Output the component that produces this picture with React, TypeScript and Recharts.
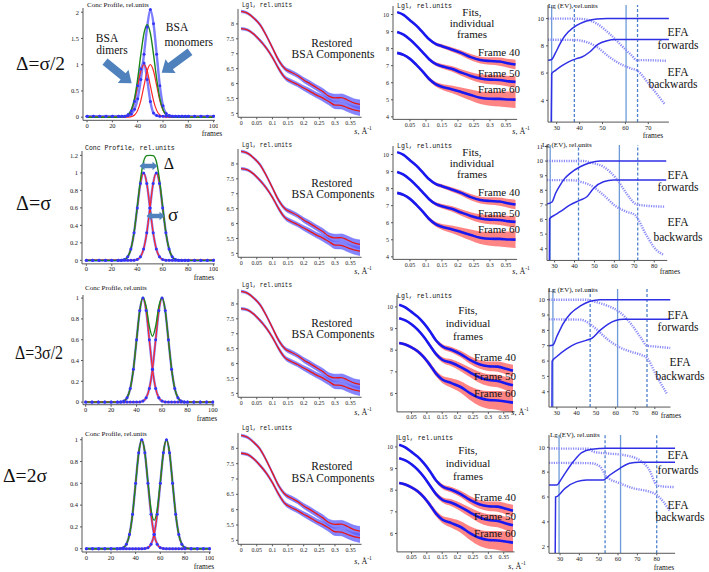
import React from 'react';
import { ComposedChart, Line, Area, XAxis, YAxis, ReferenceLine } from 'recharts';

const SERIF = '"Liberation Serif", "Times New Roman", serif';
const MONO = '"Liberation Mono", "DejaVu Sans Mono", monospace';

// ---------- Column 1: concentration profiles ----------
const FRAMES = [0, 5, 10, 15, 20, 25, 27.5, 30, 32.5, 35, 37.5, 40, 42.5, 45, 47.5, 50, 52.5, 55, 57.5, 60, 62.5, 65, 67.5, 70, 72.5, 75, 77.5, 80, 85, 90, 95, 100];
const G45 = [0, 0, 0, 0, 0, 0, 0.002, 0.01, 0.041, 0.13, 0.317, 0.6, 0.88, 1, 0.88, 0.6, 0.317, 0.13, 0.041, 0.01, 0.002, 0, 0, 0, 0, 0, 0, 0, 0, 0, 0, 0];
const G50 = [0, 0, 0, 0, 0, 0, 0, 0, 0.002, 0.01, 0.041, 0.13, 0.317, 0.6, 0.88, 1, 0.88, 0.6, 0.317, 0.13, 0.041, 0.01, 0.002, 0, 0, 0, 0, 0, 0, 0, 0, 0];
const G55 = [0, 0, 0, 0, 0, 0, 0, 0, 0, 0, 0.002, 0.01, 0.041, 0.13, 0.317, 0.6, 0.88, 1, 0.88, 0.6, 0.317, 0.13, 0.041, 0.01, 0.002, 0, 0, 0, 0, 0, 0, 0];
const G60 = [0, 0, 0, 0, 0, 0, 0, 0, 0, 0, 0, 0, 0.002, 0.01, 0.041, 0.13, 0.317, 0.6, 0.88, 1, 0.88, 0.6, 0.317, 0.13, 0.041, 0.01, 0.002, 0, 0, 0, 0, 0];
const G65 = [0, 0, 0, 0, 0, 0, 0, 0, 0, 0, 0, 0, 0, 0, 0.002, 0.01, 0.041, 0.13, 0.317, 0.6, 0.88, 1, 0.88, 0.6, 0.317, 0.13, 0.041, 0.01, 0, 0, 0, 0];
const SUM1 = [0, 0, 0, 0, 0, 0, 0.002, 0.01, 0.043, 0.14, 0.358, 0.73, 1.197, 1.6, 1.76, 1.6, 1.197, 0.73, 0.358, 0.14, 0.043, 0.01, 0.002, 0, 0, 0, 0, 0, 0, 0, 0, 0];
const SUM2 = [0, 0, 0, 0, 0, 0, 0.002, 0.01, 0.041, 0.13, 0.319, 0.61, 0.921, 1.13, 1.197, 1.2, 1.197, 1.13, 0.921, 0.61, 0.319, 0.13, 0.041, 0.01, 0.002, 0, 0, 0, 0, 0, 0, 0];
const SUM3 = [0, 0, 0, 0, 0, 0, 0.002, 0.01, 0.041, 0.13, 0.317, 0.6, 0.882, 1.01, 0.921, 0.73, 0.634, 0.73, 0.921, 1.01, 0.882, 0.6, 0.317, 0.13, 0.041, 0.01, 0.002, 0, 0, 0, 0, 0];
const SUM4 = [0, 0, 0, 0, 0, 0, 0.002, 0.01, 0.041, 0.13, 0.317, 0.6, 0.88, 1, 0.882, 0.61, 0.358, 0.26, 0.358, 0.61, 0.882, 1, 0.88, 0.6, 0.317, 0.13, 0.041, 0.01, 0, 0, 0, 0];
const BLUE1_BIG = [0.02, 0.02, 0.02, 0.02, 0.02, 0.02, 0.02, 0.02, 0.03, 0.06, 0.15, 0.35, 0.72, 1.2, 1.72, 2.05, 1.78, 1.2, 0.6, 0.22, 0.07, 0.03, 0.02, 0.02, 0.02, 0.02, 0.02, 0.02, 0.02, 0.02, 0.02, 0.02];
const BLUE1_SMALL = [0.02, 0.02, 0.02, 0.02, 0.02, 0.02, 0.02, 0.02, 0.05, 0.12, 0.3, 0.6, 0.92, 1.03, 0.72, 0.3, 0.08, 0.03, 0.02, 0.02, 0.02, 0.02, 0.02, 0.02, 0.02, 0.02, 0.02, 0.02, 0.02, 0.02, 0.02, 0.02];

// ---------- Column 2: restored components ----------
const S2 = [0, 0.02, 0.04, 0.06, 0.08, 0.1, 0.12, 0.14, 0.16, 0.18, 0.2, 0.22, 0.24, 0.26, 0.28, 0.3, 0.32, 0.34, 0.36, 0.38];
const DIMER = [8.42, 8.36, 8.2, 7.98, 7.62, 7.2, 6.78, 6.5, 6.38, 6.27, 6.12, 6.0, 5.87, 5.74, 5.58, 5.52, 5.53, 5.45, 5.35, 5.3];
const MONOMER = [7.84, 7.8, 7.66, 7.45, 7.2, 6.88, 6.5, 6.2, 6.07, 5.97, 5.85, 5.74, 5.62, 5.52, 5.4, 5.28, 5.27, 5.19, 5.12, 5.08];
const SPREAD2 = [0.04, 0.04, 0.04, 0.05, 0.05, 0.05, 0.06, 0.06, 0.07, 0.07, 0.08, 0.09, 0.09, 0.1, 0.11, 0.12, 0.12, 0.13, 0.14, 0.15];

// ---------- Column 3: individual frame fits ----------
const S3 = [0.01, 0.03, 0.05, 0.07, 0.09, 0.11, 0.13, 0.15, 0.18, 0.21, 0.24, 0.27, 0.3, 0.33, 0.36, 0.38];
const F40_R1 = [10.14, 9.98, 9.67, 9.35, 8.95, 8.55, 8.28, 8.14, 7.95, 7.75, 7.5, 7.33, 7.27, 7.24, 7.13, 7.07];
const F50_R1 = [8.98, 8.82, 8.53, 8.18, 7.78, 7.38, 7.1, 6.97, 6.82, 6.6, 6.4, 6.25, 6.18, 6.16, 6.08, 6.05];
const F60_R1 = [7.75, 7.63, 7.4, 7.05, 6.65, 6.22, 5.92, 5.76, 5.62, 5.45, 5.28, 5.12, 5.06, 5.05, 5.02, 5.01];
const F40_R4 = [10.1, 9.98, 9.77, 9.55, 9.25, 8.88, 8.45, 8.18, 8.02, 7.82, 7.55, 7.35, 7.26, 7.24, 7.13, 7.05];
const F50_R4 = [9.48, 9.38, 9.2, 8.95, 8.62, 8.22, 7.82, 7.56, 7.42, 7.22, 6.98, 6.75, 6.62, 6.58, 6.45, 6.38];
const F60_R4 = [8.33, 8.26, 8.13, 7.95, 7.68, 7.32, 6.92, 6.65, 6.48, 6.3, 6.02, 5.8, 5.7, 5.68, 5.62, 5.58];
const N40 = [0.04, 0.05, 0.05, 0.06, 0.07, 0.08, 0.09, 0.11, 0.13, 0.15, 0.18, 0.2, 0.22, 0.24, 0.26, 0.28];
const N50 = [0.05, 0.05, 0.06, 0.07, 0.08, 0.09, 0.11, 0.13, 0.16, 0.19, 0.22, 0.25, 0.27, 0.29, 0.31, 0.33];
const N60 = [0.06, 0.07, 0.08, 0.09, 0.1, 0.12, 0.14, 0.17, 0.22, 0.27, 0.32, 0.37, 0.41, 0.44, 0.47, 0.5];

// ---------- Column 4: EFA eigenvalues [frame, lg EV] ----------
const R1_FWD1 = [[26.2, 6.94], [27.8, 7.0], [29.5, 7.5], [31.5, 8.16], [33, 8.6], [35, 9.02], [38.7, 9.5], [43, 9.83], [47.5, 9.98], [52, 10.0], [79, 10.0]];
const R1_FWD2 = [[27.6, 2.4], [27.8, 5.96], [29.5, 6.2], [31.5, 6.45], [35, 6.81], [38.7, 7.06], [41, 7.18], [44.4, 7.55], [48, 8.11], [51.6, 8.36], [56, 8.46], [79, 8.46]];
const R1_BWD1 = [[26.2, 10.0], [38, 10.0], [43, 9.93], [47.5, 9.63], [53, 8.9], [59, 7.9], [62.7, 7.3], [65, 6.94], [67, 6.95], [78, 6.9]];
const R1_BWD2 = [[26.2, 8.45], [38, 8.43], [43, 8.28], [47.5, 7.92], [53, 7.18], [59, 6.57], [62.7, 6.33], [65, 6.2], [70.7, 5.1], [77, 3.75]];
const R2_FWD1 = [[26.2, 7.06], [28.7, 7.2], [30.5, 7.8], [32.8, 8.36], [35, 8.8], [37.8, 9.16], [42.8, 9.61], [47.8, 9.89], [52.8, 10.0], [86, 10.0]];
const R2_FWD2 = [[27.4, 3.2], [27.5, 6.05], [30, 6.3], [32.8, 6.54], [37.8, 7.0], [42.8, 7.33], [46.2, 7.56], [49.5, 8.13], [54.5, 8.59], [59.5, 8.7], [86, 8.7]];
const R2_BWD1 = [[26.2, 10.0], [45, 10.0], [47.8, 9.9], [54.5, 9.61], [61, 8.8], [66, 7.8], [70.3, 7.1], [72, 7.0], [85, 6.88]];
const R2_BWD2 = [[26.2, 8.7], [40, 8.68], [42.8, 8.59], [47.8, 8.36], [54.5, 7.68], [61, 6.88], [66, 6.54], [70.3, 6.31], [76, 4.94], [81, 3.92], [84.5, 3.6]];
const R3_FWD1 = [[26, 7.0], [28, 7.05], [30, 7.6], [33, 8.4], [37, 9.1], [42, 9.6], [47, 9.9], [52, 10.0], [88, 10.0]];
const R3_FWD2 = [[27.5, 3.0], [27.6, 6.0], [30, 6.3], [35, 6.8], [40, 7.15], [45, 7.35], [48, 7.5], [52, 8.0], [56, 8.4], [60, 8.65], [64, 8.72], [88, 8.72]];
const R3_BWD1 = [[26, 10.0], [45, 10.0], [50, 9.85], [56, 9.6], [62, 9.2], [68, 8.4], [73, 7.5], [76, 7.0], [80, 6.95], [88, 6.85]];
const R3_BWD2 = [[26, 8.72], [42, 8.7], [46, 8.5], [50, 8.1], [56, 7.4], [62, 6.9], [68, 6.6], [73, 6.4], [76, 6.2], [81, 5.0], [86, 3.9]];
const R4_FWD1 = [[24.3, 6.97], [28.3, 6.97], [30.5, 7.4], [32.6, 7.9], [36.9, 8.85], [41.2, 9.57], [46.4, 9.84], [54, 9.92], [89.5, 9.92]];
const R4_FWD2 = [[27.5, 1.47], [27.7, 6.0], [28.3, 6.03], [32.6, 6.7], [38.6, 7.24], [43.8, 7.37], [52.4, 7.37], [55.8, 7.77], [61, 8.31], [66, 8.71], [71, 8.79], [89.5, 8.79]];
const R4_BWD1 = [[24.3, 9.9], [45, 9.88], [47.2, 9.65], [54, 9.51], [62.8, 9.38], [71, 8.98], [76.2, 8.18], [80, 6.97], [83, 6.85], [89, 6.8]];
const R4_BWD2 = [[24.3, 8.75], [46, 8.72], [50.7, 8.45], [54, 7.64], [61, 7.1], [68, 6.7], [76.2, 6.43], [80, 6.17], [87, 4.83]];
const R1_MARKS = [27.8, 37.7, 60.3, 65.3];
const R2_MARKS = [27.8, 42, 62.5, 71.7];
const R3_MARKS = [28, 47, 61, 76];
const R4_MARKS = [29.5, 53.3, 61.3, 80];

// ---------- helpers ----------
const pts = (arr: number[][]) => arr.map(([x, y]) => ({ x, y }));

function Frame(props: any) {
  const { xd, yd, xc, yc, xt, yt, data, children, fs = 6.5 } = props;
  const kx = (xc[3] - xc[1]) / (xc[2] - xc[0]);
  const px = (v: number) => xc[1] + (v - xc[0]) * kx;
  const ky = (yc[3] - yc[1]) / (yc[2] - yc[0]);
  const py = (v: number) => yc[1] + (v - yc[0]) * ky;
  const x0 = px(xd[0]);
  const x1 = px(xd[1]);
  const yT = py(yd[1]);
  const yB = py(yd[0]);
  const YW = 22, XH = 13, MT = 3, MR = 3;
  const tick = { fontSize: fs, fontFamily: SERIF, fill: '#222' };
  return (
    <div style={{ position: 'absolute', left: x0 - YW, top: yT - MT }}>
      <ComposedChart width={x1 - x0 + YW + MR} height={yB - yT + MT + XH} margin={{ top: MT, right: MR, bottom: 0, left: 0 }} data={data}>
        <XAxis type="number" dataKey="x" domain={xd} ticks={xt} allowDataOverflow height={XH} tick={tick} tickSize={2} tickMargin={1} stroke="#555" interval={0} />
        <YAxis type="number" domain={yd} ticks={yt} allowDataOverflow width={YW} tick={tick} tickSize={2} tickMargin={2} stroke="#555" interval={0} />
        {children}
      </ComposedChart>
    </div>
  );
}

const RED = '#ff2626';
const GREEN = '#1b861b';
const BLUE_L = '#7d7dff';
const BLUE_D = '#3434f5';

function ConcPanel({ cfg, blueA, blueB, redA, redB, sum }: any) {
  const data = FRAMES.map((x, i) => ({ x, ba: blueA[i], bb: blueB[i], ra: redA[i], rb: redB[i], s: sum[i] }));
  const dot = { r: 1.5, fill: BLUE_D, stroke: 'none' };
  return (
    <Frame {...cfg} xt={[0, 20, 40, 60, 80, 100]} data={data}>
      <Line type="monotone" dataKey="ba" stroke={BLUE_L} strokeWidth={2.4} dot={dot} isAnimationActive={false} />
      <Line type="monotone" dataKey="bb" stroke={BLUE_L} strokeWidth={2.4} dot={dot} isAnimationActive={false} />
      <Line type="monotone" dataKey="ra" stroke={RED} strokeWidth={1.2} dot={false} isAnimationActive={false} />
      <Line type="monotone" dataKey="rb" stroke={RED} strokeWidth={1.2} dot={false} isAnimationActive={false} />
      <Line type="monotone" dataKey="s" stroke={GREEN} strokeWidth={1.4} dot={false} isAnimationActive={false} />
    </Frame>
  );
}

function RestoredPanel({ cfg }: any) {
  const data = S2.map((x, i) => ({
    x,
    d: DIMER[i], m: MONOMER[i],
    bd: [DIMER[i] - SPREAD2[i], DIMER[i] + SPREAD2[i]],
    bm: [MONOMER[i] - SPREAD2[i], MONOMER[i] + SPREAD2[i]],
  }));
  return (
    <Frame {...cfg} xt={[0, 0.05, 0.1, 0.15, 0.2, 0.25, 0.3, 0.35]} data={data} fs={6}>
      <Area type="monotone" dataKey="bd" stroke="#6a6aff" strokeWidth={0.6} fill="#5c5cff" fillOpacity={0.75} isAnimationActive={false} />
      <Area type="monotone" dataKey="bm" stroke="#6a6aff" strokeWidth={0.6} fill="#5c5cff" fillOpacity={0.75} isAnimationActive={false} />
      <Line type="monotone" dataKey="d" stroke="#e81818" strokeWidth={1.3} dot={false} isAnimationActive={false} />
      <Line type="monotone" dataKey="m" stroke="#e81818" strokeWidth={1.3} dot={false} isAnimationActive={false} />
    </Frame>
  );
}

function FitsPanel({ cfg, f40, f50, f60 }: any) {
  const data = S3.map((x, i) => ({
    x,
    a: f40[i], b: f50[i], c: f60[i],
    na: [f40[i] - N40[i], f40[i] + N40[i]],
    nb: [f50[i] - N50[i], f50[i] + N50[i]],
    nc: [f60[i] - N60[i], f60[i] + N60[i]],
  }));
  return (
    <Frame {...cfg} xt={[0.05, 0.1, 0.15, 0.2, 0.25, 0.3, 0.35]} data={data} fs={6}>
      <Area type="monotone" dataKey="na" stroke="none" fill="#ff3434" fillOpacity={0.6} isAnimationActive={false} />
      <Area type="monotone" dataKey="nb" stroke="none" fill="#ff3434" fillOpacity={0.6} isAnimationActive={false} />
      <Area type="monotone" dataKey="nc" stroke="none" fill="#ff3434" fillOpacity={0.6} isAnimationActive={false} />
      <Line type="monotone" dataKey="a" stroke="#1818f0" strokeWidth={2.6} dot={false} isAnimationActive={false} />
      <Line type="monotone" dataKey="b" stroke="#1818f0" strokeWidth={2.6} dot={false} isAnimationActive={false} />
      <Line type="monotone" dataKey="c" stroke="#1818f0" strokeWidth={2.6} dot={false} isAnimationActive={false} />
    </Frame>
  );
}

function EfaPanel({ cfg, f1, f2, b1, b2, marks }: any) {
  return (
    <Frame {...cfg} fs={6.5}>
      {marks.map((m: number, i: number) => (
        <ReferenceLine key={i} x={m} stroke={i % 2 === 0 ? '#6c9bd8' : '#4b80cc'} strokeWidth={1.3} strokeDasharray={i % 2 === 0 ? undefined : '3 2'} ifOverflow="hidden" />
      ))}
      <Line data={pts(b1)} type="monotone" dataKey="y" stroke="#8a8af8" strokeWidth={2.4} strokeDasharray="1.2 1.2" dot={false} isAnimationActive={false} />
      <Line data={pts(b2)} type="monotone" dataKey="y" stroke="#8a8af8" strokeWidth={2.4} strokeDasharray="1.2 1.2" dot={false} isAnimationActive={false} />
      <Line data={pts(f1)} type="monotone" dataKey="y" stroke="#2f2fe6" strokeWidth={1.5} dot={false} isAnimationActive={false} />
      <Line data={pts(f2)} type="monotone" dataKey="y" stroke="#2f2fe6" strokeWidth={1.5} dot={false} isAnimationActive={false} />
    </Frame>
  );
}

// ---------- panel placements: domain + calibration (value, pixel) pairs ----------
const C1 = [
  { xd: [-3.2, 101], yd: [-0.06, 2.08], xc: [0, 86.7, 100, 213.3], yc: [0, 117, 2, 12], yt: [0, 0.5, 1, 1.5, 2] },
  { xd: [-3.4, 101], yd: [-0.04, 1.25], xc: [0, 86, 100, 213.3], yc: [0, 260, 1.2, 155], yt: [0, 0.2, 0.4, 0.6, 0.8, 1, 1.2] },
  { xd: [-2.1, 101], yd: [-0.025, 1.03], xc: [0, 86, 100, 213.3], yc: [0, 402.3, 1, 298.3], yt: [0, 0.2, 0.4, 0.6, 0.8, 1] },
  { xd: [-3.5, 101], yd: [-0.03, 1.025], xc: [0, 86, 100, 209.3], yc: [0, 548.3, 1, 439.3], yt: [0, 0.2, 0.4, 0.6, 0.8, 1] },
];
const C2 = [
  { xd: [-0.01, 0.385], yd: [4.87, 8.5], xc: [0, 241.5, 0.35, 351], yc: [5, 113.8, 8, 24.3], yt: [5, 5.5, 6, 6.5, 7, 7.5, 8] },
  { xd: [-0.01, 0.385], yd: [4.87, 8.5], xc: [0, 241.5, 0.35, 351], yc: [5, 253.8, 8, 164.3], yt: [5, 5.5, 6, 6.5, 7, 7.5, 8] },
  { xd: [-0.01, 0.385], yd: [4.87, 8.5], xc: [0, 241.5, 0.35, 351], yc: [5, 393.8, 8, 304.3], yt: [5, 5.5, 6, 6.5, 7, 7.5, 8] },
  { xd: [-0.01, 0.385], yd: [4.87, 8.5], xc: [0, 241.5, 0.35, 351], yc: [5, 540, 8, 448], yt: [5, 5.5, 6, 6.5, 7, 7.5, 8] },
];
const C3 = [
  { xd: [-0.003, 0.385], yd: [3.85, 10.5], xc: [0.05, 410, 0.35, 506], yc: [4, 117.3, 10, 15], yt: [4, 5, 6, 7, 8, 9, 10] },
  { xd: [-0.003, 0.385], yd: [3.85, 10.5], xc: [0.05, 410, 0.35, 506], yc: [4, 257.3, 10, 155], yt: [4, 5, 6, 7, 8, 9, 10] },
  { xd: [0.003, 0.385], yd: [5.15, 10.55], xc: [0.05, 411, 0.35, 503.3], yc: [6, 393.3, 10, 306.7], yt: [6, 7, 8, 9, 10] },
  { xd: [0.003, 0.385], yd: [5.15, 10.55], xc: [0.05, 411, 0.35, 503.3], yc: [6, 533.3, 10, 446.7], yt: [6, 7, 8, 9, 10] },
];
const C4 = [
  { xd: [26.2, 79], yd: [2.4, 11], xc: [30, 556.7, 70, 648.3], yc: [4, 100, 10, 18.3], xt: [30, 40, 50, 60, 70], yt: [4, 6, 8, 10] },
  { xd: [26.2, 86.5], yd: [3.2, 11.1], xc: [30, 554.3, 80, 654], yc: [4, 248.3, 11, 146], xt: [30, 40, 50, 60, 70, 80], yt: [4, 5, 6, 7, 8, 9, 10, 11] },
  { xd: [26, 88], yd: [3.0, 10.7], xc: [30, 557, 80, 655], yc: [4, 392, 10, 300], xt: [30, 40, 50, 60, 70, 80], yt: [4, 5, 6, 7, 8, 9, 10] },
  { xd: [24.3, 89.5], yd: [1.47, 10.99], xc: [30, 560, 80, 656.7], yc: [2, 546.7, 10, 447.3], xt: [30, 40, 50, 60, 70, 80], yt: [2, 4, 6, 8, 10] },
];

// ---------- annotation geometry ----------
function arrow(ax: number, ay: number, bx: number, by: number, sw: number, hw: number, hl: number) {
  const L = Math.hypot(bx - ax, by - ay);
  const ux = (bx - ax) / L, uy = (by - ay) / L;
  const nx = -uy, ny = ux;
  const hx = bx - ux * hl, hy = by - uy * hl;
  const p = [
    [ax + nx * sw, ay + ny * sw], [hx + nx * sw, hy + ny * sw], [hx + nx * hw, hy + ny * hw], [bx, by],
    [hx - nx * hw, hy - ny * hw], [hx - nx * sw, hy - ny * sw], [ax - nx * sw, ay - ny * sw],
  ];
  return p.map((q) => q.join(',')).join(' ');
}
function dblArrow(ax: number, y: number, bx: number, sw: number, hw: number, hl: number) {
  const p = [
    [ax, y], [ax + hl, y - hw], [ax + hl, y - sw], [bx - hl, y - sw], [bx - hl, y - hw], [bx, y],
    [bx - hl, y + hw], [bx - hl, y + sw], [ax + hl, y + sw], [ax + hl, y + hw],
  ];
  return p.map((q) => q.join(',')).join(' ');
}

type Tx = { t: string; x: number; y: number; s?: number; f?: string; a?: string; len?: number };
const TEXTS: Tx[] = [
  // row labels
  { t: 'Δ=σ/2', x: 16, y: 63, s: 19, a: 'start', len: 49 },
  { t: 'Δ=σ', x: 16, y: 203, s: 20, a: 'start', len: 35 },
  { t: 'Δ=3σ/2', x: 15, y: 353, s: 18, a: 'start', len: 48 },
  { t: 'Δ=2σ', x: 3, y: 475, s: 19, a: 'start', len: 44 },
  // row 1 col 1
  { t: 'BSA', x: 107, y: 38.3, s: 11.5 },
  { t: 'dimers', x: 112, y: 50, s: 11.5 },
  { t: 'BSA', x: 177, y: 27, s: 11.5 },
  { t: 'monomers', x: 188.7, y: 41.7, s: 11.5 },
  // row 2 col 1
  { t: 'Δ', x: 169, y: 163, s: 16 },
  { t: 'σ', x: 173, y: 214, s: 19 },
  // col 2 text
  { t: 'Restored', x: 331.7, y: 42.7, s: 11.5 },
  { t: 'BSA Components', x: 333, y: 54.3, s: 11.5 },
  { t: 'Restored', x: 331.7, y: 182.7, s: 11.5 },
  { t: 'BSA Components', x: 333, y: 194.3, s: 11.5 },
  { t: 'Restored', x: 331.7, y: 322.7, s: 11.5 },
  { t: 'BSA Components', x: 333, y: 334.3, s: 11.5 },
  { t: 'Restored', x: 331.7, y: 466, s: 11.5 },
  { t: 'BSA Components', x: 333, y: 478, s: 11.5 },
  // col 3 text
  { t: 'Fits,', x: 472, y: 11.7, s: 11 },
  { t: 'individual', x: 472, y: 23.3, s: 11 },
  { t: 'frames', x: 472, y: 34.3, s: 11 },
  { t: 'Frame 40', x: 499, y: 51.7, s: 11 },
  { t: 'Frame 50', x: 499, y: 72.7, s: 11 },
  { t: 'Frame 60', x: 499, y: 89.3, s: 11 },
  { t: 'Fits,', x: 472, y: 151.7, s: 11 },
  { t: 'individual', x: 472, y: 163.3, s: 11 },
  { t: 'frames', x: 472, y: 174.3, s: 11 },
  { t: 'Frame 40', x: 499, y: 191.7, s: 11 },
  { t: 'Frame 50', x: 499, y: 212.7, s: 11 },
  { t: 'Frame 60', x: 499, y: 229.3, s: 11 },
  { t: 'Fits,', x: 468, y: 310, s: 11 },
  { t: 'individual', x: 468, y: 322.7, s: 11 },
  { t: 'frames', x: 468, y: 336, s: 11 },
  { t: 'Frame 40', x: 495, y: 356.7, s: 11 },
  { t: 'Frame 50', x: 495, y: 376, s: 11 },
  { t: 'Frame 60', x: 495, y: 393.3, s: 11 },
  { t: 'Fits,', x: 468, y: 450, s: 11 },
  { t: 'individual', x: 468, y: 462.7, s: 11 },
  { t: 'frames', x: 468, y: 476, s: 11 },
  { t: 'Frame 40', x: 495, y: 496.7, s: 11 },
  { t: 'Frame 50', x: 495, y: 516, s: 11 },
  { t: 'Frame 60', x: 495, y: 533.3, s: 11 },
  // col 4 text
  { t: 'EFA', x: 678, y: 31.7, s: 11.5 },
  { t: 'forwards', x: 678, y: 45, s: 11.5 },
  { t: 'EFA', x: 678, y: 71.7, s: 11.5 },
  { t: 'backwards', x: 673, y: 84.3, s: 11.5 },
  { t: 'EFA', x: 678, y: 175, s: 11.5 },
  { t: 'forwards', x: 678, y: 186.7, s: 11.5 },
  { t: 'EFA', x: 678, y: 221.7, s: 11.5 },
  { t: 'backwards', x: 678, y: 236.7, s: 11.5 },
  { t: 'EFA', x: 678, y: 315, s: 11.5 },
  { t: 'forwards', x: 678, y: 327, s: 11.5 },
  { t: 'EFA', x: 680, y: 362, s: 11.5 },
  { t: 'backwards', x: 680, y: 376, s: 11.5 },
  { t: 'EFA', x: 678, y: 455, s: 11.5 },
  { t: 'forwards', x: 678, y: 470, s: 11.5 },
  { t: 'EFA', x: 678, y: 505, s: 11.5 },
  { t: 'backwards', x: 680, y: 516.7, s: 11.5 },
  // titles
  { t: 'Conc Profile, rel.units', x: 87, y: 5, s: 7, a: 'start' },
  { t: 'Conc Profile, rel.units', x: 85, y: 148.3, s: 6.5, a: 'start', f: MONO },
  { t: 'Conc Profile, rel.units', x: 85, y: 288.3, s: 7, a: 'start' },
  { t: 'Conc Profile, rel.units', x: 85, y: 434, s: 7, a: 'start' },
  { t: 'Lgl, rel.units', x: 242, y: 5, s: 6.5, a: 'start', f: MONO, len: 50 },
  { t: 'Lgl, rel.units', x: 242, y: 145, s: 6.5, a: 'start', f: MONO, len: 50 },
  { t: 'Lgl, rel.units', x: 242, y: 285, s: 6.5, a: 'start', f: MONO, len: 50 },
  { t: 'Lgl, rel.units', x: 242, y: 428, s: 6.5, a: 'start', f: MONO, len: 50 },
  { t: 'Lgl, rel.units', x: 397, y: 6, s: 6.5, a: 'start', f: MONO, len: 55 },
  { t: 'Lgl, rel.units', x: 397, y: 146, s: 6.5, a: 'start', f: MONO, len: 55 },
  { t: 'Lgl, rel.units', x: 397, y: 296, s: 6.5, a: 'start', f: MONO, len: 55 },
  { t: 'Lgl, rel.units', x: 398, y: 438, s: 6.5, a: 'start', f: MONO, len: 55 },
  { t: 'Lg (EV), rel.units', x: 548, y: 6, s: 7, a: 'start' },
  { t: 'Lg (EV), rel.units', x: 542, y: 145, s: 7, a: 'start' },
  { t: 'Lg (EV), rel.units', x: 548, y: 290, s: 7, a: 'start' },
  { t: 'Lg (EV), rel.units', x: 550, y: 435, s: 7, a: 'start' },
  // axis names
  { t: 'frames', x: 212, y: 133, s: 7.5 },
  { t: 'frames', x: 204, y: 277, s: 7.5 },
  { t: 'frames', x: 207, y: 418, s: 7.5 },
  { t: 'frames', x: 204, y: 566, s: 7.5 },
  { t: 'frames', x: 653, y: 135, s: 7.5 },
  { t: 'frames', x: 670, y: 271, s: 7.5 },
  { t: 'frames', x: 671, y: 415, s: 7.5 },
  { t: 'frames', x: 664, y: 567, s: 7.5 },
];
const SLABELS = [[363, 131], [363, 271], [363, 412], [363, 561], [521, 131], [521, 271], [520, 412], [517, 566]];

export default function App() {
  return (
    <div style={{ position: 'absolute', left: 0, top: 0, width: 709, height: 572, background: '#fff', overflow: 'hidden' }}>
      <ConcPanel cfg={C1[0]} blueA={BLUE1_BIG} blueB={BLUE1_SMALL} redA={G45} redB={G50} sum={SUM1} />
      <ConcPanel cfg={C1[1]} blueA={G45} blueB={G55} redA={G45} redB={G55} sum={SUM2} />
      <ConcPanel cfg={C1[2]} blueA={G45} blueB={G60} redA={G45} redB={G60} sum={SUM3} />
      <ConcPanel cfg={C1[3]} blueA={G45} blueB={G65} redA={G45} redB={G65} sum={SUM4} />
      {C2.map((c, i) => <RestoredPanel key={i} cfg={c} />)}
      <FitsPanel cfg={C3[0]} f40={F40_R1} f50={F50_R1} f60={F60_R1} />
      <FitsPanel cfg={C3[1]} f40={F40_R1} f50={F50_R1} f60={F60_R1} />
      <FitsPanel cfg={C3[2]} f40={F40_R4} f50={F50_R4} f60={F60_R4} />
      <FitsPanel cfg={C3[3]} f40={F40_R4} f50={F50_R4} f60={F60_R4} />
      <EfaPanel cfg={C4[0]} f1={R1_FWD1} f2={R1_FWD2} b1={R1_BWD1} b2={R1_BWD2} marks={R1_MARKS} />
      <EfaPanel cfg={C4[1]} f1={R2_FWD1} f2={R2_FWD2} b1={R2_BWD1} b2={R2_BWD2} marks={R2_MARKS} />
      <EfaPanel cfg={C4[2]} f1={R3_FWD1} f2={R3_FWD2} b1={R3_BWD1} b2={R3_BWD2} marks={R3_MARKS} />
      <EfaPanel cfg={C4[3]} f1={R4_FWD1} f2={R4_FWD2} b1={R4_BWD1} b2={R4_BWD2} marks={R4_MARKS} />
      <svg width={709} height={572} style={{ position: 'absolute', left: 0, top: 0, pointerEvents: 'none' }}>
        <polygon points={arrow(105, 61.7, 131.7, 83.3, 4, 8.5, 11)} fill="#4f81bd" />
        <polygon points={arrow(190, 51.7, 161.7, 72.7, 4, 8.5, 11)} fill="#4f81bd" />
        <polygon points={dblArrow(139.5, 166, 157.5, 2.2, 4.2, 5)} fill="#4f81bd" />
        <polygon points={dblArrow(146.5, 216, 164.5, 2.2, 4.2, 5)} fill="#4f81bd" />
        {TEXTS.map((d, i) => (
          <text key={i} x={d.x} y={d.y} fontSize={d.s ?? 10} fontFamily={d.f ?? SERIF} textAnchor={(d.a as any) ?? 'middle'} dominantBaseline="central" fill="#111"
            {...(d.len ? { textLength: d.len, lengthAdjust: 'spacingAndGlyphs' } : {})}>{d.t}</text>
        ))}
        {SLABELS.map(([x, y], i) => (
          <text key={'s' + i} x={x} y={y} fontSize={8} fontFamily={SERIF} textAnchor="middle" dominantBaseline="central" fill="#111">
            <tspan fontStyle="italic">s</tspan>, Å<tspan fontSize={5.5} dy={-3}>-1</tspan>
          </text>
        ))}
      </svg>
    </div>
  );
}
